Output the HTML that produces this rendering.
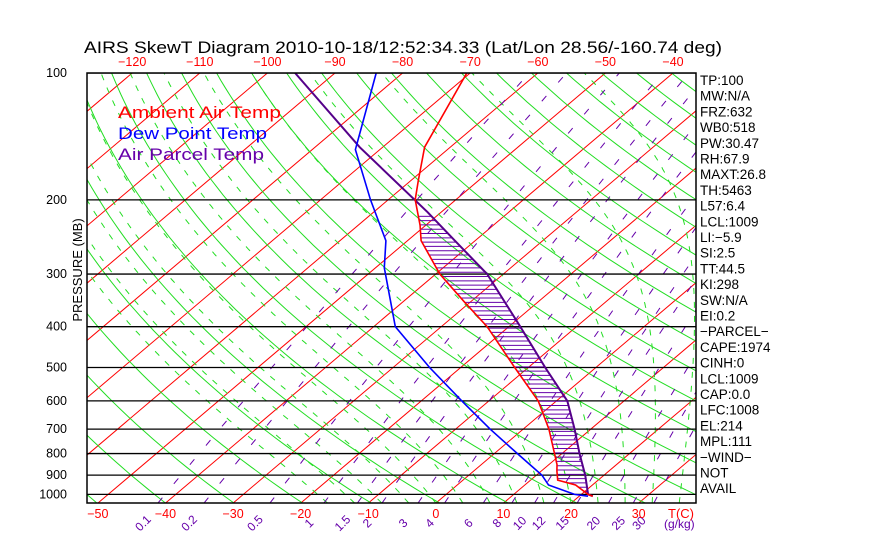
<!DOCTYPE html>
<html><head><meta charset="utf-8"><style>
body{margin:0;background:#fff;}
svg{display:block;font-family:"Liberation Sans",sans-serif;}
</style></head><body>
<svg id="c" width="870" height="560" xmlns="http://www.w3.org/2000/svg">
<defs><clipPath id="clip"><rect x="87" y="73" width="609" height="430"/></clipPath></defs>
<rect width="870" height="560" fill="#fff"/>
<text x="84" y="53" font-size="17" fill="#000" textLength="638" lengthAdjust="spacingAndGlyphs">AIRS SkewT Diagram 2010-10-18/12:52:34.33 (Lat/Lon 28.56/-160.74 deg)</text>
<g id="grid" clip-path="url(#clip)"></g>
<g id="series" clip-path="url(#clip)"></g>
<rect x="87" y="73" width="609" height="430" fill="none" stroke="#000" stroke-width="1.5"/>
<g id="labels"></g>
<text transform="translate(82,270) rotate(-90)" text-anchor="middle" font-size="13">PRESSURE (MB)</text>
<text x="118" y="118" font-size="17" fill="#ff0000" textLength="163" lengthAdjust="spacingAndGlyphs">Ambient Air Temp</text>
<text x="118" y="139" font-size="17" fill="#0000ff" textLength="149" lengthAdjust="spacingAndGlyphs">Dew Point Temp</text>
<text x="118" y="160" font-size="17" fill="#6600aa" textLength="146" lengthAdjust="spacingAndGlyphs">Air Parcel Temp</text>
<g id="stats" font-size="13.5"></g>
</svg>
<script>
const pressureTicks=[100,200,300,400,500,600,700,800,900,1000];
const bottomTemps=[-50,-40,-30,-20,-10,0,10,20,30];
const topTemps=[-120,-110,-100,-90,-80,-70,-60,-50,-40];
const mixRatios=[0.1,0.2,0.5,1,1.5,2,3,4,6,8,10,12,15,20,25,30];
const tempP=[100,150,180,200,230,250,300,350,400,500,600,700,800,850,880,925,950,1000,1010];
const tempT=[-70.5,-63.8,-58.9,-56,-50.8,-48,-39.4,-30.8,-23.2,-12,-2.7,3.8,8.9,11.2,12.3,14,17.5,21,22];
const dewP=[100,152,200,250,290,400,500,600,700,800,900,950,1000,1010];
const dewT=[-83.9,-73.6,-62.6,-53.2,-48.7,-36.8,-24.6,-14,-4.9,3.4,10.8,13.5,19,21.3];
const parcelP=[100,150,214,250,300,400,500,600,700,800,900,1000,1010];
const parcelT=[-95.9,-73.4,-52,-43,-32.4,-18.3,-7.5,1.6,7.6,12.6,17.2,21,22];
const stats=["TP:100","MW:N/A","FRZ:632","WB0:518","PW:30.47","RH:67.9","MAXT:26.8","TH:5463","L57:6.4","LCL:1009","LI:-5.9","SI:2.5","TT:44.5","KI:298","SW:N/A","EI:0.2","-PARCEL-","CAPE:1974","CINH:0","LCL:1009","CAP:0.0","LFC:1008","EL:214","MPL:111","-WIND-"," NOT"," AVAIL"];
const NS="http://www.w3.org/2000/svg";
const PB=1049;
function yP(p){return 73+183*Math.log(p/100);}
function xT(T,p){return 436+6.76*T+1.18*(503-yP(p));}
function mk(tag,attrs,parent){const e=document.createElementNS(NS,tag);for(const k in attrs)e.setAttribute(k,attrs[k]);parent.appendChild(e);return e;}
const grid=document.getElementById('grid'),ser=document.getElementById('series'),lab=document.getElementById('labels'),st=document.getElementById('stats');
function pts(fn){let s=[];for(let i=0;i<=60;i++){const p=PB*Math.pow(100/PB,i/60);const T=fn(p);if(T===null)continue;s.push(xT(T,p).toFixed(1)+','+yP(p).toFixed(1));}return s.join(' ');}
for(let T=-160;T<=50;T+=10){const l=mk('line',{x1:xT(T,PB),y1:yP(PB),x2:xT(T,100),y2:yP(100),stroke:'#ff0000','stroke-width':1},grid);

}
for(let th=200;th<=500;th+=10){const l=mk('polyline',{points:pts(p=>th*Math.pow(p/1000,0.286)-273.15),fill:'none',stroke:'#22dd22','stroke-width':1},grid);

}
function es(T){return 6.112*Math.exp(17.67*T/(T+243.5));}
function moist(T0){let s=[],T=T0+273.15,p=PB;const n=300;for(let i=0;i<=n;i++){s.push(xT(T-273.15,p).toFixed(1)+','+yP(p).toFixed(1));const p2=PB*Math.pow(100/PB,(i+1)/n);const dp=p2-p;const e=es(T-273.15);const rs=0.622*e/(p-e);const d=(287*T+2.5e6*rs)/(p*(1004+2.5e6*2.5e6*rs*0.622/(287*T*T)));T+=d*dp;p=p2;}return s.join(' ');}
for(let T0=-16;T0<=44;T0+=4){const l=mk('polyline',{points:moist(T0),fill:'none',stroke:'#22dd22','stroke-width':1,'stroke-dasharray':'6,8'},grid);

}
function tdw(w,p){const e=w*p/(622+w);const a=Math.log(e/6.112);return 243.5*a/(17.67-a);}
mixRatios.forEach(w=>{const l=mk('polyline',{points:pts(p=>tdw(w,p)),fill:'none',stroke:'#6600aa','stroke-width':1,'stroke-dasharray':'7,18'},grid);


const x=xT(tdw(w,PB),PB)-12;const t=mk('text',{transform:`translate(${x},${526}) rotate(-45)`,'font-size':12,fill:'#6600aa','text-anchor':'middle'},lab);t.textContent=String(w);

});
pressureTicks.forEach(p=>{const l=mk('line',{x1:87,x2:696,y1:yP(p),y2:yP(p),stroke:'#000','stroke-width':1.3},grid);


const t=mk('text',{x:67,y:yP(p)+4,'font-size':12.5,'text-anchor':'end'},lab);t.textContent=String(p);

});
bottomTemps.forEach(T=>{const t=mk('text',{x:xT(T,PB),y:518,'font-size':12.5,fill:'#ff0000','text-anchor':'middle'},lab);t.textContent=String(T).replace('-','\u2212');

});
topTemps.forEach(T=>{const t=mk('text',{x:xT(T,100),y:66,'font-size':12.5,fill:'#ff0000','text-anchor':'middle'},lab);t.textContent=String(T).replace('-','\u2212');

});
{const t=mk('text',{x:668,y:518,'font-size':13,fill:'#ff0000'},lab);t.textContent='T(C)';


const u=mk('text',{x:664,y:528,'font-size':12,fill:'#6600aa'},lab);u.textContent='(g/kg)';

}
function interp(P,T,p){for(let i=0;i<P.length-1;i++){if(p>=P[i]&&p<=P[i+1]){const f=Math.log(p/P[i])/Math.log(P[i+1]/P[i]);return T[i]+f*(T[i+1]-T[i]);}}return null;}
for(let y=yP(1008);y>=yP(214);y-=4.3){const p=100*Math.exp((y-73)/183);const a=interp(tempP,tempT,p),b=interp(parcelP,parcelT,p);if(a===null||b===null)continue;
const l=mk('line',{x1:xT(a,p),x2:xT(b,p),y1:y,y2:y,stroke:'#6600aa','stroke-width':1},ser);

}
function line(P,T,col,name,w){const s=P.map((p,i)=>xT(T[i],p).toFixed(1)+','+yP(p).toFixed(1)).join(' ');const l=mk('polyline',{points:s,fill:'none',stroke:col,'stroke-width':w},ser);

}
line(parcelP,parcelT,'#55008a','parcel-temp-line',2);
line(dewP,dewT,'#0000ff','dewpoint-line',1.6);
line(tempP,tempT,'#ff0000','temperature-line',1.6);
stats.forEach((s,i)=>{const t=mk('text',{x:700,y:85+i*15.7},st);t.textContent=s.replace('-','\u2212').replace('-','\u2212');

});
</script>
</body></html>
